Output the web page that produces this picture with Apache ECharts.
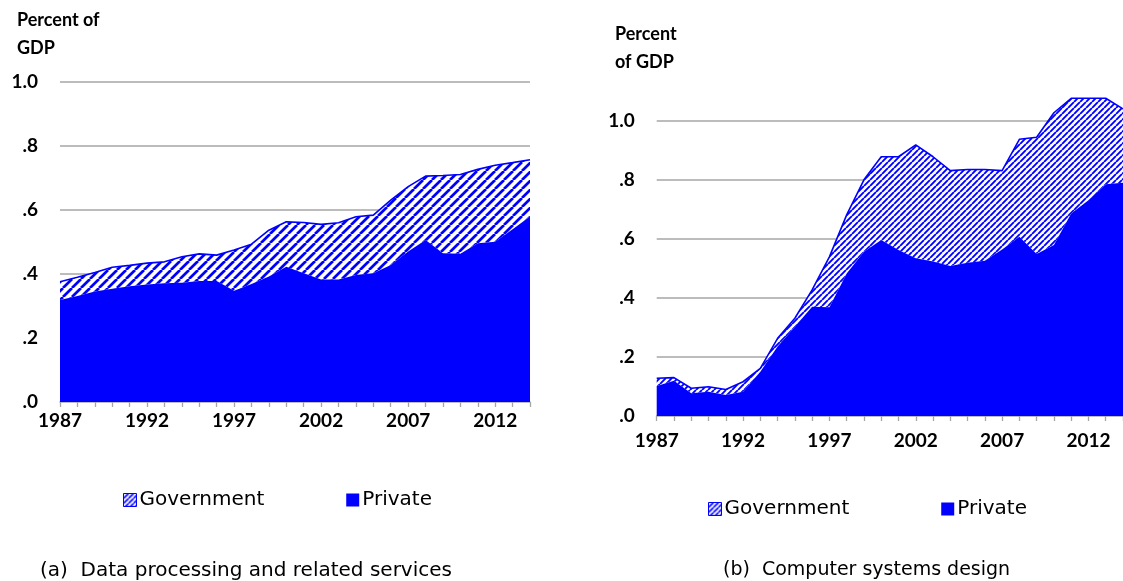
<!DOCTYPE html>
<html>
<head>
<meta charset="utf-8">
<script src="https://cdn.jsdelivr.net/npm/echarts@6/dist/echarts.min.js"></script>
<style>
html,body{margin:0;padding:0;background:#fff;}
#c{width:1123px;height:581px;}
</style>
</head>
<body>
<div id="c"></div>
<script>
const years = ['1987','1988','1989','1990','1991','1992','1993','1994','1995','1996','1997','1998','1999','2000',
  '2001','2002','2003','2004','2005','2006','2007','2008','2009','2010','2011','2012','2013','2014'];

// (a) Data processing and related services, percent of GDP
const dpPrivate = [0.319,0.331,0.345,0.354,0.362,0.367,0.371,0.373,0.378,0.378,0.348,0.369,0.392,0.423,
  0.402,0.383,0.383,0.397,0.402,0.428,0.470,0.506,0.465,0.463,0.496,0.501,0.540,0.580];
const dpGovernment = [0.057,0.059,0.060,0.067,0.065,0.067,0.067,0.081,0.085,0.081,0.127,0.124,0.145,0.140,
  0.159,0.172,0.177,0.182,0.182,0.203,0.203,0.200,0.243,0.248,0.231,0.239,0.208,0.177];

// (b) Computer systems design, percent of GDP
const csPrivate = [0.102,0.119,0.077,0.082,0.071,0.082,0.150,0.235,0.302,0.370,0.368,0.483,0.556,0.596,
  0.562,0.534,0.523,0.508,0.519,0.526,0.564,0.607,0.549,0.579,0.686,0.731,0.785,0.790];
const csGovernment = [0.026,0.011,0.017,0.017,0.019,0.034,0.011,0.028,0.029,0.057,0.171,0.198,0.244,0.282,
  0.316,0.384,0.355,0.323,0.316,0.309,0.267,0.330,0.395,0.448,0.390,0.345,0.291,0.250];

const yTickLabels = {0:'.0', 2:'.2', 4:'.4', 6:'.6', 8:'.8', 10:'1.0'};
const legendNames = ['Government','Private'];
const yTitleA = 'Percent of\nGDP';
const yTitleB = 'Percent\nof GDP';
const captionA = '(a)  Data processing and related services';
const captionB = '(b)  Computer systems design';

const BLUE = '#0000ff';
function hatch(p, lw) {
  const c = document.createElement('canvas');
  c.width = p; c.height = p;
  const g = c.getContext('2d');
  g.fillStyle = '#ffffff'; g.fillRect(0, 0, p, p);
  g.strokeStyle = BLUE; g.lineWidth = lw;
  g.beginPath();
  for (const o of [-p, 0, p]) { g.moveTo(o, p); g.lineTo(o + p, 0); }
  g.stroke();
  return c;
}
const patA = {image: hatch(9, 2.7), repeat: 'repeat'};
const patB = {image: hatch(6, 1.9), repeat: 'repeat'};
const patLegend = {image: hatch(5, 1.6), repeat: 'repeat'};

const labelFont = {fontFamily: 'Lato', fontWeight: 'bold', fontSize: 19, color: '#000'};
function yFmt(v) { const k = Math.round(v * 10); return yTickLabels[k] !== undefined ? yTickLabels[k] : ''; }

function xAxisCfg(gi, margin) {
  return {
    type: 'category', gridIndex: gi, data: years, boundaryGap: false,
    axisLine: {lineStyle: {color: '#a6a6a6', width: 1.5}},
    axisTick: {show: true, interval: 0, length: 5, lineStyle: {color: '#a6a6a6', width: 1.3}},
    axisLabel: Object.assign({interval: 4, margin: margin}, labelFont),
    splitLine: {show: false}
  };
}
function yAxisCfg(gi, max) {
  return {
    type: 'value', gridIndex: gi, min: 0, max: max, interval: 0.2,
    axisLine: {show: false}, axisTick: {show: false},
    axisLabel: Object.assign({formatter: yFmt, margin: 22, showMaxLabel: max <= 1.0}, labelFont),
    splitLine: {lineStyle: {color: '#a6a6a6', width: 1.5}, showMinLine: false, showMaxLine: max <= 1.0}
  };
}
function privSeries(xi, data) {
  return {name: 'Private', type: 'line', xAxisIndex: xi, yAxisIndex: xi, stack: 's' + xi, data: data,
    symbol: 'none', lineStyle: {width: 0, color: BLUE}, itemStyle: {color: BLUE},
    areaStyle: {color: BLUE, opacity: 1}, z: 3};
}
function govSeries(xi, data, pat) {
  return {name: 'Government', type: 'line', xAxisIndex: xi, yAxisIndex: xi, stack: 's' + xi, data: data,
    symbol: 'none', lineStyle: {width: 1.6, color: BLUE}, itemStyle: {color: BLUE},
    areaStyle: {color: pat, opacity: 1}, z: 2};
}
function legendCfg(left, top, gap) {
  return {
    left: left, top: top, itemWidth: 13, itemHeight: 13, itemGap: gap, padding: 0, icon: 'rect',
    textStyle: {fontFamily: 'DejaVu Sans', fontSize: 20, color: '#000', padding: [0, 0, 0, -2]},
    data: [
      {name: legendNames[0], icon: 'rect', itemStyle: {color: patLegend, borderColor: BLUE, borderWidth: 1}, lineStyle: {opacity: 0}},
      {name: legendNames[1], icon: 'rect', itemStyle: {color: BLUE}, lineStyle: {opacity: 0}}
    ]
  };
}

const chart = echarts.init(document.getElementById('c'), null, {renderer: 'canvas'});
chart.setOption({
  animation: false,
  backgroundColor: '#ffffff',
  title: [
    {text: yTitleA, left: 12, top: 1, textStyle: {fontFamily: 'Lato', fontWeight: 'bold', fontSize: 18, lineHeight: 28, color: '#000'}},
    {text: yTitleB, left: 610, top: 15, textStyle: {fontFamily: 'Lato', fontWeight: 'bold', fontSize: 18, lineHeight: 28, color: '#000'}},
    {text: captionA, left: 35, top: 556, textStyle: {fontFamily: 'DejaVu Sans', fontWeight: 'normal', fontSize: 20, color: '#000'}},
    {text: captionB, left: 718, top: 556, textStyle: {fontFamily: 'DejaVu Sans', fontWeight: 'normal', fontSize: 19, color: '#000'}}
  ],
  legend: [legendCfg(123, 490, 82), legendCfg(708, 499, 92)],
  grid: [
    {left: 60, width: 470, top: 82, height: 320},
    {left: 656.7, width: 472.5, top: 91.2, height: 324.8}
  ],
  xAxis: [xAxisCfg(0, 9), xAxisCfg(1, 15)],
  yAxis: [yAxisCfg(0, 1.0), yAxisCfg(1, 1.1)],
  series: [
    privSeries(0, dpPrivate), govSeries(0, dpGovernment, patA),
    privSeries(1, csPrivate), govSeries(1, csGovernment, patB)
  ]
});
</script>
</body>
</html>
